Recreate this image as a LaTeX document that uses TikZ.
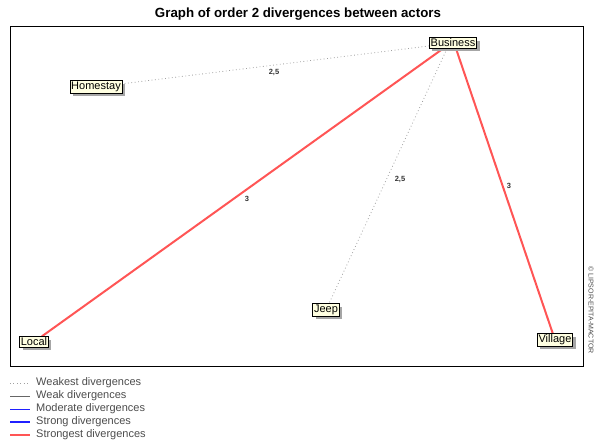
\documentclass[tikz,border=0pt]{standalone}
\usepackage{fontspec}
\setmainfont{Liberation Sans}
\usetikzlibrary{shadows}
\pgfdeclarelayer{background}
\pgfsetlayers{background,main}
\definecolor{nodefill}{HTML}{FFFFE1}
\definecolor{strongred}{HTML}{FF5555}
\definecolor{dotgray}{HTML}{A0A0A0}
\definecolor{legblue}{HTML}{2020FF}
\begin{document}
\begin{tikzpicture}[x=1pt,y=-1pt,
  actor/.style={draw=black,fill=nodefill,line width=0.8pt,inner sep=1.2pt,font=\fontsize{11}{12}\selectfont,
    drop shadow={shadow xshift=3pt,shadow yshift=-3pt,fill=gray!70,opacity=1}},
  weakest/.style={dotgray,line width=0.8pt,dash pattern=on 0.8pt off 2.6pt},
  weakline/.style={black!60,line width=0.7pt},
  moderate/.style={legblue,line width=0.9pt},
  strong/.style={legblue,line width=1.7pt},
  strongest/.style={strongred,line width=2pt},
  elabel/.style={font=\fontsize{7.5}{8}\selectfont\bfseries,text=black!80,inner sep=0pt},
  legtext/.style={font=\fontsize{11}{12}\selectfont,text=black!70,anchor=west,inner sep=0pt}]
\useasboundingbox (0,0) rectangle (597,441);
\node[font=\fontsize{13.3}{14}\selectfont\bfseries] (title) at (298,14) {Graph of order 2 divergences between actors};
\draw[line width=0.8pt] (10,26) rectangle (583,366);
\node[font=\fontsize{7}{8}\selectfont,text=black!70,rotate=-90] (copy) at (591,310) {© LIPSOR-EPITA-MACTOR};
% nodes
\node[actor] (bus) at (453,43) {Business};
\node[actor] (home) at (96,87) {Homestay};
\node[actor] (loc) at (34,342) {Local};
\node[actor] (jeep) at (326,310) {Jeep};
\node[actor] (vil) at (555,340) {Village};
% edges
\begin{pgfonlayer}{background}
\draw[weakest] (bus) -- (home);
\draw[weakest] (bus.south) ++(-6,0) coordinate (bj) (bj) -- (jeep);
\draw[strongest] (bus.south) ++(-10,0) coordinate (bl) (bl) -- (loc);
\draw[strongest] (bus.south) ++(3,0) coordinate (bv) (bv) -- (vil);
\end{pgfonlayer}
\node[elabel] (l1) at (274,72) {2,5};
\node[elabel] (l2) at (400,179) {2,5};
\node[elabel] (l3) at (247,199) {3};
\node[elabel] (l4) at (509,186) {3};
% legend
\coordinate (a1) at (10,383); \coordinate (b1) at (30,383);
\coordinate (a2) at (10,396); \coordinate (b2) at (30,396);
\coordinate (a3) at (10,409); \coordinate (b3) at (30,409);
\coordinate (a4) at (10,422); \coordinate (b4) at (30,422);
\coordinate (a5) at (10,435); \coordinate (b5) at (30,435);
\draw[weakest] (a1) -- (b1);
\draw[weakline] (a2) -- (b2);
\draw[moderate] (a3) -- (b3);
\draw[strong] (a4) -- (b4);
\draw[strongest] (a5) -- (b5);
\node[legtext] (t1) at (36,383) {Weakest divergences};
\node[legtext] (t2) at (36,396) {Weak divergences};
\node[legtext] (t3) at (36,409) {Moderate divergences};
\node[legtext] (t4) at (36,422) {Strong divergences};
\node[legtext] (t5) at (36,435) {Strongest divergences};
\end{tikzpicture}
\end{document}
